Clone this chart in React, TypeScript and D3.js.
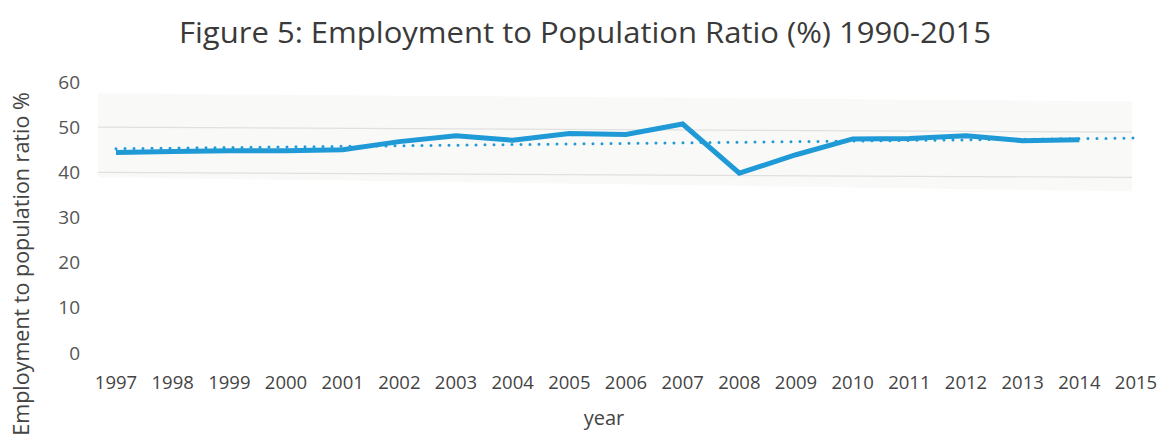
import React from 'react';
import * as d3 from 'd3';

const title = 'Figure 5: Employment to Population Ratio (%) 1990-2015';
const yAxisTitle = 'Employment to population ratio %';
const xAxisTitle = 'year';

const years = ['1997', '1998', '1999', '2000', '2001', '2002', '2003', '2004', '2005', '2006', '2007', '2008', '2009', '2010', '2011', '2012', '2013', '2014', '2015'];
const dataYears = ['1997', '1998', '1999', '2000', '2001', '2002', '2003', '2004', '2005', '2006', '2007', '2008', '2009', '2010', '2011', '2012', '2013', '2014'];
const ratioValues = [44.4, 44.6, 44.8, 44.8, 45.0, 46.8, 48.1, 47.1, 48.6, 48.4, 50.7, 39.8, 43.9, 47.4, 47.5, 48.1, 47.0, 47.2];
const yTicks = [0, 10, 20, 30, 40, 50, 60];
const gridValues = [40, 50];

const W = 1163;
const H = 441;
const FONT = '"Open Sans", "Noto Sans", sans-serif';

export default function App() {
  const x = d3.scalePoint<string>().domain(years).range([116, 1136]);
  const y = d3.scaleLinear().domain([0, 60]).range([353, 82]);

  const pts: [number, number][] = dataYears.map((yr, i) => [x(yr) as number, y(ratioValues[i])]);
  const line = d3.line<[number, number]>().x(d => d[0]).y(d => d[1]);

  // linear trend (least squares) over the data, forecast one period forward
  const n = ratioValues.length;
  const idx = d3.range(n);
  const mx = d3.mean(idx) as number;
  const my = d3.mean(ratioValues) as number;
  const slope = d3.sum(idx, i => (i - mx) * (ratioValues[i] - my)) / d3.sum(idx, i => (i - mx) * (i - mx));
  const intercept = my - slope * mx;
  const trendPts: [number, number][] = years.map((yr, i) => [x(yr) as number, y(intercept + slope * i)]);

  const bandTop = y(57.5);
  const bandBottom = y(39.8);
  const x0 = 98;
  const x1 = 1132;

  return (
    <svg width={W} height={H} style={{ position: 'absolute', left: 0, top: 0, background: '#fff' }}>
      <rect x={0} y={0} width={W} height={H} fill="#ffffff" />
      <text x={585} y={43} textAnchor="middle" fontFamily={FONT} fontSize={29} fill="#3a3a3a"
        textLength={812} lengthAdjust="spacingAndGlyphs">{title}</text>

      {/* plot area */}
      <polygon points={`${x0},${bandTop} ${x1},${bandTop + 8} ${x1},${bandBottom + 18} ${x0},${bandBottom + 4}`} fill="#f9f9f8" />
      {gridValues.map(v => (
        <line key={v} x1={x0} x2={x1} y1={y(v)} y2={y(v) + 5} stroke="#e0e0e0" strokeWidth={1.2} />
      ))}

      {/* y ticks */}
      {yTicks.map(t => (
        <text key={t} x={80} y={y(t)} dy="0.35em" textAnchor="end" fontFamily={FONT} fontSize={19} fill="#555">{t}</text>
      ))}
      {/* x ticks */}
      {years.map(yr => (
        <text key={yr} x={x(yr) as number} y={389} textAnchor="middle" fontFamily={FONT} fontSize={18.5} fill="#444">{yr}</text>
      ))}

      <text x={604} y={425} textAnchor="middle" fontFamily={FONT} fontSize={20} fill="#444">{xAxisTitle}</text>
      <text transform={`translate(29, 264) rotate(-90)`} textAnchor="middle" fontFamily={FONT} fontSize={21.5} fill="#444">{yAxisTitle}</text>

      {/* trendline */}
      <path d={line(trendPts) as string} fill="none" stroke="#1f9ad6" strokeWidth={3} strokeDasharray="0 9" strokeLinecap="round" />
      {/* series */}
      <path d={line(pts) as string} fill="none" stroke="#1f9ad6" strokeWidth={5} strokeLinejoin="miter" />
    </svg>
  );
}
